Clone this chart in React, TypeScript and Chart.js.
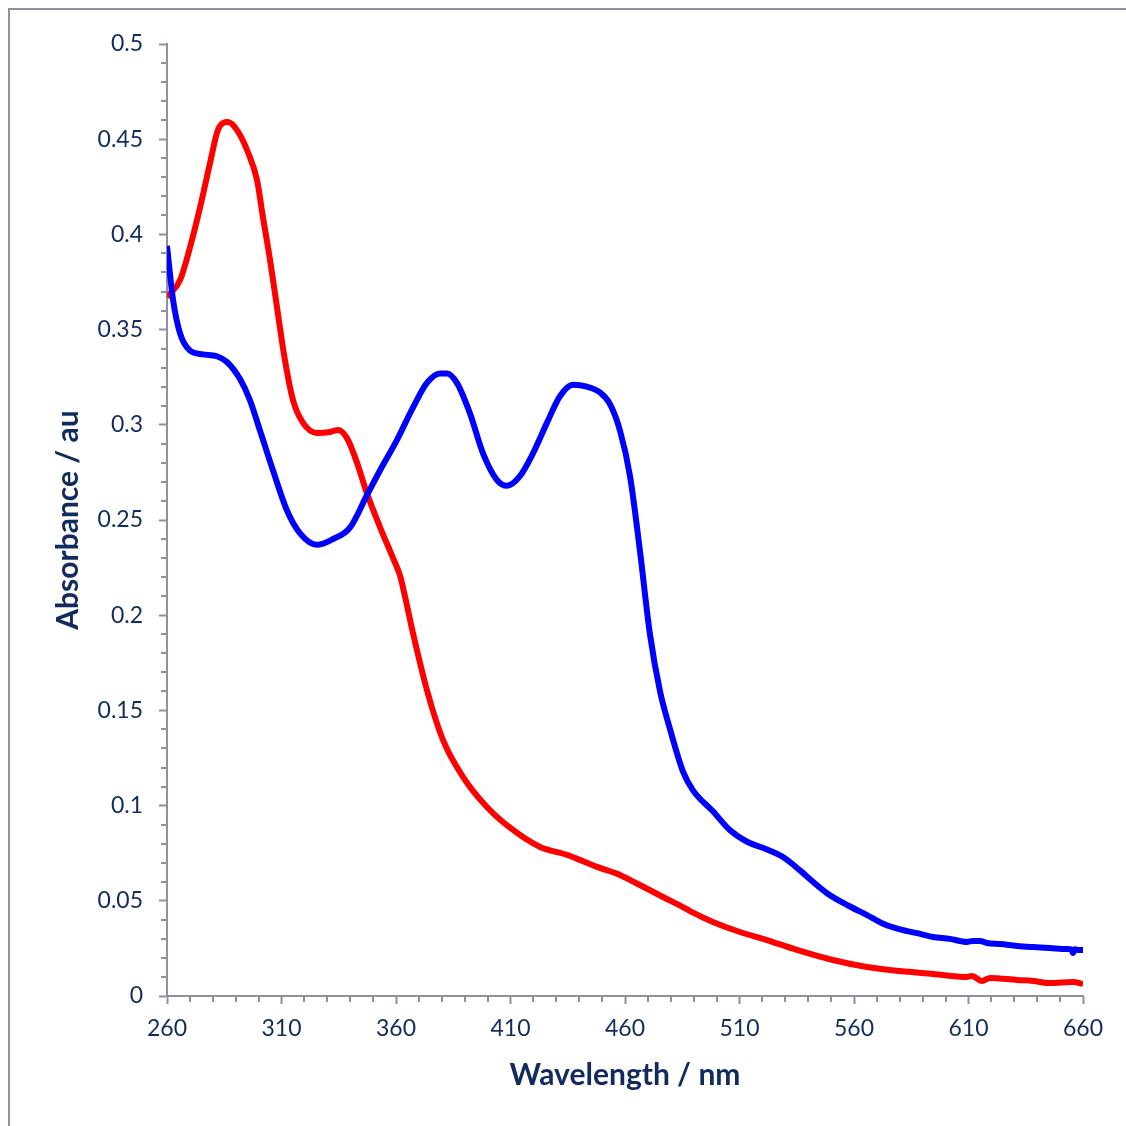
import React, { useEffect, useRef } from "react";
import { Chart, registerables } from "chart.js";

Chart.register(...registerables);

// Blue spectrum
const blueWavelength = [
  260, 262.6, 265.7, 270, 275.7, 281.8, 286.2, 291.9, 296.2, 300.6, 306.3, 312.4, 318.1, 325.5,
  332.5, 339.9, 347.3, 353.0, 360.4, 367.4, 373.5, 379.2, 382.3, 386.6, 392.3, 398.0, 404.1,
  408.5, 414.1, 419.8, 425.9, 431.6, 437.3, 443.4, 449.1, 453.4, 457.8, 462.2, 466.5, 470.9,
  475.3, 479.7, 485.3, 489.7, 498.4, 505.9, 513.3, 522.0, 529.0, 536.4, 542.1, 548.2, 558.3,
  565.7, 572.7, 580.1, 587.5, 594.5, 601.9, 609.3, 612.0, 615.0, 618.1, 623.8, 631.2, 638.2,
  645.6, 653.0, 655.0, 655.6, 656.5, 657.8, 660,
];
const blueAbsorbance = [
  0.394, 0.366, 0.348, 0.339, 0.337, 0.336, 0.333, 0.324, 0.313, 0.297, 0.276, 0.255, 0.243, 0.237,
  0.24, 0.246, 0.263, 0.276, 0.292, 0.309, 0.322, 0.327, 0.327, 0.322, 0.306, 0.285, 0.271,
  0.268, 0.273, 0.285, 0.301, 0.315, 0.321, 0.32, 0.317, 0.311, 0.297, 0.273, 0.234, 0.19,
  0.16, 0.14, 0.118, 0.108, 0.097, 0.087, 0.081, 0.077, 0.073, 0.066, 0.06, 0.054, 0.047,
  0.0425, 0.038, 0.035, 0.033, 0.031, 0.03, 0.0284, 0.0289, 0.0289, 0.0278, 0.0273, 0.0263, 0.0257,
  0.0252, 0.0247, 0.0245, 0.0226, 0.0245, 0.0242, 0.0242,
];

// Red spectrum
const redWavelength = [
  260, 265.7, 270.0, 274.4, 278.8, 282.3, 286.6, 291.0, 295.4, 299.3, 301.9, 305.0, 308.0, 311.5,
  315.0, 319.4, 325.5, 331.2, 334.7, 338.6, 343.0, 347.3, 353.0, 358.7, 361.7, 363.9, 367.4,
  373.5, 380.5, 389.3, 399.7, 411.1, 422.9, 434.7, 447.8, 457.8, 466.5, 476.6, 485.3, 488.4,
  498.4, 510.2, 522.0, 535.1, 550.8, 565.7, 580.1, 594.5, 609.3, 611.5, 615.9, 619.4, 631.2,
  638.2, 645.6, 655.6, 660,
];
const redAbsorbance = [
  0.367, 0.376, 0.393, 0.414, 0.4375, 0.455, 0.459, 0.454, 0.443, 0.4286, 0.409, 0.3866, 0.362, 0.334,
  0.313, 0.301, 0.2957, 0.2962, 0.2973, 0.293, 0.28, 0.264, 0.2463, 0.23, 0.221, 0.21, 0.1907,
  0.1607, 0.1345, 0.115, 0.0993, 0.0872, 0.0783, 0.0741, 0.0678, 0.0636, 0.0583, 0.052, 0.0467, 0.0446,
  0.0389, 0.0336, 0.0294, 0.0242, 0.0189, 0.0152, 0.0131, 0.0116, 0.01, 0.0105, 0.0079, 0.0095, 0.0084,
  0.0079, 0.0068, 0.0074, 0.0063,
];

const xTickValues = [260, 310, 360, 410, 460, 510, 560, 610, 660];
const yTickValues = [0, 0.05, 0.1, 0.15, 0.2, 0.25, 0.3, 0.35, 0.4, 0.45, 0.5];
const xTitle = "Wavelength / nm";
const yTitle = "Absorbance / au";

const AXIS_COLOR = "#8D90A2";
const TEXT_COLOR = "#112B5E";
const FONT = "Lato, 'Open Sans', sans-serif";

const minorTicks = {
  id: "minorTicks",
  afterDraw(chart: any) {
    const ctx = chart.ctx;
    const xs = chart.scales.x;
    const ys = chart.scales.y;
    ctx.save();
    ctx.strokeStyle = AXIS_COLOR;
    ctx.lineWidth = 2;
    ctx.beginPath();
    for (let i = 0; i < xTickValues.length - 1; i++) {
      const a = xTickValues[i];
      const b = xTickValues[i + 1];
      for (let k = 1; k < 5; k++) {
        const v = a + ((b - a) * k) / 5;
        const px = Math.round(xs.getPixelForValue(v));
        ctx.moveTo(px, ys.bottom);
        ctx.lineTo(px, ys.bottom + 6);
      }
    }
    for (let i = 0; i < yTickValues.length - 1; i++) {
      const a = yTickValues[i];
      const b = yTickValues[i + 1];
      for (let k = 1; k < 5; k++) {
        const v = a + ((b - a) * k) / 5;
        const py = Math.round(ys.getPixelForValue(v));
        ctx.moveTo(xs.left - 6, py);
        ctx.lineTo(xs.left, py);
      }
    }
    ctx.stroke();
    ctx.restore();
  },
};

function toPoints(xs: number[], ys: number[]) {
  return xs.map((x, i) => ({ x, y: ys[i] }));
}

export default function App() {
  const ref = useRef<HTMLCanvasElement | null>(null);
  useEffect(() => {
    if (!ref.current) return;
    const chart = new Chart(ref.current, {
      type: "line",
      data: {
        datasets: [
          {
            label: "blue",
            data: toPoints(blueWavelength, blueAbsorbance),
            borderColor: "#0000FF",
            backgroundColor: "#0000FF",
            borderWidth: 6,
            pointRadius: 0,
            cubicInterpolationMode: "monotone",
          },
          {
            label: "red",
            data: toPoints(redWavelength, redAbsorbance),
            borderColor: "#FF0000",
            backgroundColor: "#FF0000",
            borderWidth: 6,
            pointRadius: 0,
            cubicInterpolationMode: "monotone",
          },
        ],
      },
      options: {
        responsive: false,
        animation: false,
        layout: { padding: { left: 0, right: 43, top: 44, bottom: 0 } },
        plugins: { legend: { display: false }, tooltip: { enabled: false } },
        scales: {
          x: {
            type: "linear",
            min: 260,
            max: 660,
            afterBuildTicks: (s: any) => {
              s.ticks = xTickValues.map((v) => ({ value: v }));
            },
            afterFit: (s: any) => {
              s.height = 130;
            },
            grid: {
              drawOnChartArea: false,
              drawTicks: true,
              tickLength: 8,
              tickColor: AXIS_COLOR,
              tickWidth: 2,
            },
            border: { display: true, color: AXIS_COLOR, width: 2 },
            ticks: {
              autoSkip: false,
              maxRotation: 0,
              padding: 11,
              color: TEXT_COLOR,
              font: { family: FONT, size: 23 },
              callback: (v: any) => String(v),
            },
            title: {
              display: true,
              text: xTitle,
              color: TEXT_COLOR,
              font: { family: FONT, size: 30, weight: "bold" },
              padding: { top: 0, bottom: 33 },
            },
          },
          y: {
            type: "linear",
            min: 0,
            max: 0.5,
            afterBuildTicks: (s: any) => {
              s.ticks = yTickValues.map((v) => ({ value: v }));
            },
            afterFit: (s: any) => {
              s.width = 167;
            },
            grid: {
              drawOnChartArea: false,
              drawTicks: true,
              tickLength: 8,
              tickColor: AXIS_COLOR,
              tickWidth: 2,
            },
            border: { display: true, color: AXIS_COLOR, width: 2 },
            ticks: {
              autoSkip: false,
              padding: 16,
              color: TEXT_COLOR,
              font: { family: FONT, size: 23 },
              callback: (v: any) => String(Number(Number(v).toFixed(2))),
            },
            title: {
              display: true,
              text: yTitle,
              color: TEXT_COLOR,
              font: { family: FONT, size: 30, weight: "bold" },
              padding: { top: 50, bottom: 0 },
            },
          },
        },
      },
      plugins: [minorTicks],
    } as any);
    return () => chart.destroy();
  }, []);

  return (
    <>
      <div
        style={{
          position: "absolute",
          left: 8,
          top: 8,
          width: 1118,
          height: 1118,
          boxSizing: "border-box",
          borderLeft: `2px solid ${AXIS_COLOR}`,
          borderTop: `2px solid ${AXIS_COLOR}`,
        }}
      />
      <canvas
        ref={ref}
        width={1126}
        height={1126}
        style={{ position: "absolute", left: 0, top: 0, width: 1126, height: 1126 }}
      />
    </>
  );
}
